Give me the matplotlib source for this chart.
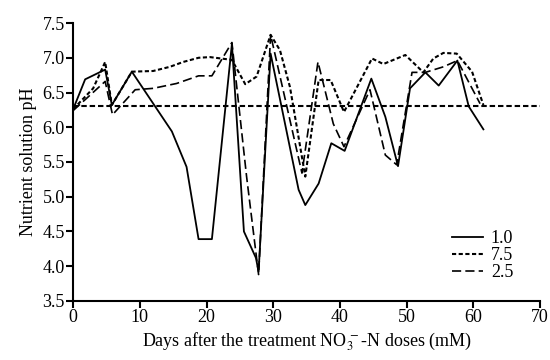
import matplotlib
matplotlib.use('Agg')
from matplotlib import pyplot as plt

# 1.0 mM (solid)
days_10 = [0, 1.8, 4.8, 5.8, 8.8, 14.8, 17.0, 18.8, 20.8, 23.8, 25.6, 27.4, 27.8, 29.6,
           33.8, 34.8, 36.8, 38.7, 40.7, 44.7, 46.8, 48.7, 50.5, 52.8, 54.8, 57.6, 59.3, 61.5]
ph_10 = [6.26, 6.69, 6.83, 6.32, 6.80, 5.94, 5.43, 4.39, 4.39, 7.20, 4.50, 4.12, 3.92, 7.06,
         5.10, 4.88, 5.19, 5.77, 5.66, 6.70, 6.15, 5.44, 6.56, 6.79, 6.60, 6.96, 6.30, 5.97]

# 7.5 mM (short dashes)
days_75 = [0, 3.0, 4.8, 5.8, 8.8, 12.0, 14.5, 16.5, 18.8, 20.5, 23.8, 25.8, 27.5, 29.6, 31.0,
           32.5, 34.8, 36.8, 38.6, 40.6, 44.8, 46.5, 49.8, 52.5, 54.0, 55.5, 57.5, 59.8, 61.5]
ph_75 = [6.26, 6.56, 6.94, 6.32, 6.80, 6.81, 6.87, 6.94, 7.00, 7.01, 6.97, 6.62, 6.73, 7.33, 7.11,
         6.58, 5.29, 6.68, 6.68, 6.22, 6.99, 6.91, 7.04, 6.79, 6.99, 7.07, 7.06, 6.80, 6.32]

# 2.5 mM (long dashes)
days_25 = [0, 4.8, 5.9, 9.3, 12.0, 15.5, 18.8, 20.8, 23.8, 26.0, 27.8, 29.6, 34.3, 36.7,
           39.0, 40.6, 44.5, 46.8, 48.5, 50.8, 52.8, 55.5, 57.6, 61.0]
ph_25 = [6.24, 6.66, 6.18, 6.54, 6.56, 6.63, 6.74, 6.74, 7.22, 5.29, 3.88, 7.33, 5.34, 6.94,
         6.05, 5.72, 6.54, 5.60, 5.46, 6.79, 6.79, 6.87, 6.96, 6.34]

ref_ph = 6.3

plt.rcParams['font.family'] = 'Liberation Serif'
plt.rcParams['mathtext.fontset'] = 'stix'
plt.rcParams['font.size'] = 13

fig = plt.figure(figsize=(5.5, 3.6), dpi=100)
ax = fig.add_axes([0.133, 0.164, 0.849, 0.772])

ax.plot(days_10, ph_10, color='black', lw=1.3, ls='-', label='1.0')
ax.plot(days_75, ph_75, color='black', lw=1.5, ls=(0, (2.0, 1.2)), label='7.5')
ax.plot(days_25, ph_25, color='black', lw=1.2, ls=(0, (5.5, 2.5)), label='2.5')
ax.axhline(ref_ph, color='black', lw=1.5, ls=(0, (2.6, 1.4)))

ax.set_xlim(0, 70)
ax.set_ylim(3.5, 7.5)
ax.set_xticks(range(0, 71, 10))
ax.set_yticks([3.5, 4.0, 4.5, 5.0, 5.5, 6.0, 6.5, 7.0, 7.5])
ax.set_yticklabels(['3.5', '4.0', '4.5', '5.0', '5.5', '6.0', '6.5', '7.0', '7.5'])
ax.spines['top'].set_visible(False)
ax.spines['right'].set_visible(False)
ax.spines['left'].set_linewidth(1.5)
ax.spines['bottom'].set_linewidth(1.5)
ax.tick_params(direction='out', length=5, width=1.5, labelsize=13, pad=1)

ax.set_xlabel(r'Days after the treatment NO$_3^{\,-}$-N doses (mM)', fontsize=13, labelpad=3)
ax.set_ylabel('Nutrient solution pH', fontsize=13, labelpad=4)

ax.legend(loc='upper left', bbox_to_anchor=(0.792, 0.287), frameon=False, fontsize=13,
          handlelength=1.7, handletextpad=0.45, labelspacing=0.0, borderpad=0)

fig.savefig('out.png', dpi=100)
